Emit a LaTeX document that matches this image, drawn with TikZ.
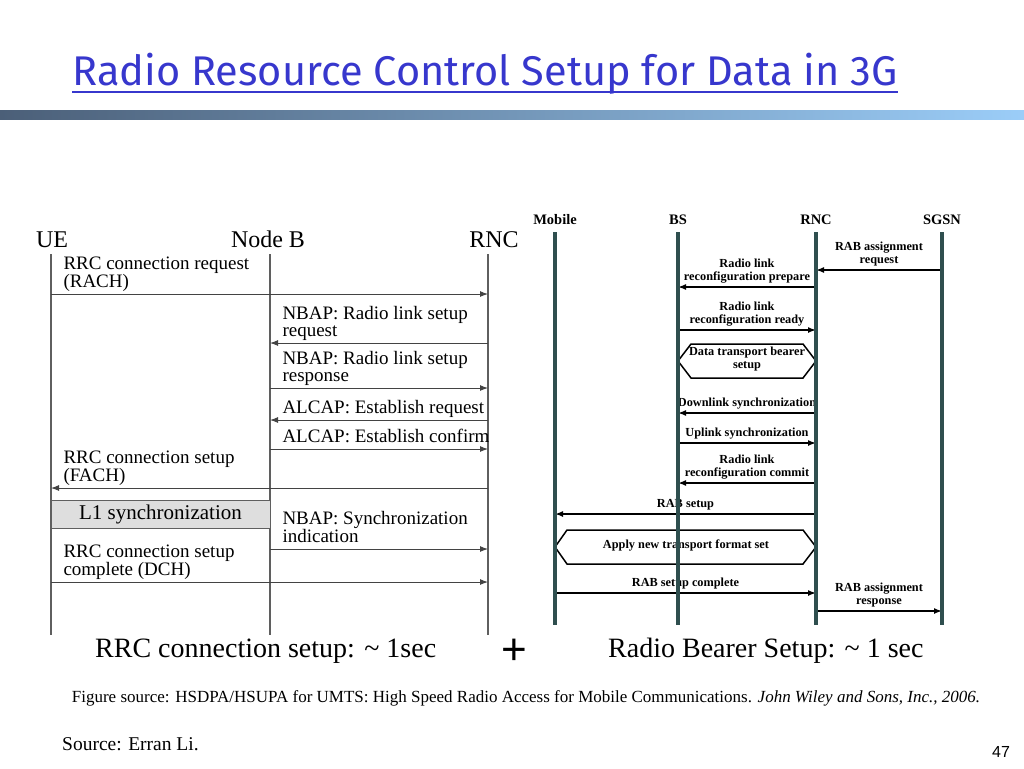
\documentclass[tikz,border=0pt]{standalone}
\usepackage{fontspec}
\setmainfont{Liberation Serif}
\newfontfamily\titlefont{Fira Sans}
\newfontfamily\slidesans{Liberation Sans}
\usetikzlibrary{arrows.meta,positioning}

\definecolor{titleblue}{RGB}{55,55,205}
\definecolor{lifegray}{RGB}{95,95,95}
\definecolor{lifeslate}{RGB}{47,79,79}
\definecolor{barleft}{RGB}{75,95,120}
\definecolor{barmid}{RGB}{125,160,205}
\definecolor{barright}{RGB}{155,205,248}

\begin{document}
\begin{tikzpicture}[x=1pt,y=-1pt,>={Latex[length=8pt,width=6pt]},
    lifeL/.style={draw=lifegray,line width=1.1pt},
    msgL/.style={->,draw=lifegray!70!black,line width=1pt},
    lblL/.style={font=\fontsize{19}{17}\selectfont,align=left,inner sep=0pt,
      anchor=south west,xshift=12pt,yshift=2pt,text depth=4pt},
    headL/.style={font=\fontsize{24}{24}\selectfont,inner sep=0pt,anchor=base},
    lifeR/.style={draw=lifeslate,line width=3.5pt},
    msgR/.style={->,line width=1.5pt},
    lblR/.style={font=\bfseries\fontsize{12.3}{13}\selectfont,align=center,
      inner sep=0pt,anchor=south,yshift=3pt,text depth=3pt},
    headR/.style={font=\bfseries\fontsize{14.5}{15}\selectfont,inner sep=0pt,anchor=base},
    hexbox/.style={draw,line width=1.5pt,fill=white}]
  \fill[white] (0,0) rectangle (1024,768);
  \useasboundingbox (0,0) rectangle (1024,768);

  % title and bar
  \node[font=\titlefont\fontsize{41.5}{42}\selectfont,text=titleblue,inner sep=0pt,
    anchor=base] (ttl) at (485,85) {Radio Resource Control Setup for Data in 3G};
  \draw[titleblue,line width=2pt] (ttl.base west) ++(0,7) -- ([yshift=-7pt]ttl.base east);
  \shade[left color=barleft,middle color=barmid,right color=barright]
    (0,110) rectangle (1024,119);

  % RRC connection setup (left)
  \node[headL] (hUE) at (52,247) {UE};
  \node[headL] (hNB) at (268,247) {Node B};
  \node[headL] (hRNC) at (494,247) {RNC};
  \coordinate (ue) at (51,254);
  \coordinate (nb) at (270,254);
  \coordinate (rnc) at (488,254);
  \foreach \c in {ue,nb,rnc}
    \draw[lifeL] (\c) -- (\c |- 0,635);

  \path (ue |- 0,294) edge[msgL] node[lblL,at start] {RRC connection request\\(RACH)} (rnc |- 0,294)
    (rnc |- 0,343) edge[msgL] node[lblL,at end] {NBAP: Radio link setup\\request} (nb |- 0,343)
    (nb |- 0,388) edge[msgL] node[lblL,at start] {NBAP: Radio link setup\\response} (rnc |- 0,388)
    (rnc |- 0,420) edge[msgL] node[lblL,at end] {ALCAP: Establish request} (nb |- 0,420)
    (nb |- 0,449) edge[msgL] node[lblL,at start] {ALCAP: Establish confirm} (rnc |- 0,449)
    (rnc |- 0,488) edge[msgL] node[lblL,at end] {RRC connection setup\\(FACH)} (ue |- 0,488)
    (nb |- 0,549) edge[msgL] node[lblL,at start] {NBAP: Synchronization\\indication} (rnc |- 0,549)
    (ue |- 0,582) edge[msgL] node[lblL,at start] {RRC connection setup\\complete (DCH)} (rnc |- 0,582);

  \node[draw=lifegray,fill=black!13,line width=1pt,minimum width=219pt,
    minimum height=28pt,inner sep=0pt,font=\fontsize{21}{21}\selectfont]
    (l1) at (160.5,514) {L1 synchronization};

  % radio bearer setup (right)
  \foreach \n/\x/\t in {mob/555/Mobile,bs/678/BS,rncR/816/RNC,sgsn/942/SGSN} {
    \node[headR] (\n) at (\x,224) {\t};
  }
  \draw[hexbox] (bs |- 0,361) -- (691,344) -- (803,344) -- (rncR |- 0,361)
    -- (803,378) -- (691,378) -- cycle;
  \node[lblR,anchor=center,yshift=0pt,text depth=0pt] (dtb) at (747,361)
    {Data transport bearer\\setup};
  \draw[hexbox] (mob |- 0,547) -- (567,530) -- (803,530) -- (rncR |- 0,547)
    -- (803,564) -- (567,564) -- cycle;
  \node[lblR,anchor=center,yshift=0pt,text depth=0pt] (antf) at (686,547)
    {Apply new transport format set};

  \path (sgsn |- 0,270) edge[msgR] node[lblR] {RAB assignment\\request} (rncR |- 0,270)
    (rncR |- 0,287) edge[msgR] node[lblR] {Radio link\\reconfiguration prepare} (bs |- 0,287)
    (bs |- 0,330) edge[msgR] node[lblR] {Radio link\\reconfiguration ready} (rncR |- 0,330)
    (rncR |- 0,413) edge[msgR] node[lblR] {Downlink synchronization} (bs |- 0,413)
    (bs |- 0,443) edge[msgR] node[lblR] {Uplink synchronization} (rncR |- 0,443)
    (rncR |- 0,483) edge[msgR] node[lblR] {Radio link\\reconfiguration commit} (bs |- 0,483)
    (rncR |- 0,514) edge[msgR] node[lblR] {RAB setup} (mob |- 0,514)
    (mob |- 0,593) edge[msgR] node[lblR] {RAB setup complete} (rncR |- 0,593)
    (rncR |- 0,611) edge[msgR] node[lblR] {RAB assignment\\response} (sgsn |- 0,611);

  \foreach \n in {mob,bs,rncR,sgsn}
    \draw[lifeR] (\n |- 0,232) -- (\n |- 0,625);

  % timings and sources
  \node[font=\fontsize{28}{28}\selectfont,inner sep=0pt,anchor=base west]
    (trrc) at (95,657) {RRC connection setup: \textasciitilde{} 1sec};
  \node[font=\slidesans\fontsize{44}{44}\selectfont,inner sep=0pt] (plus) at (514,652) {+};
  \node[font=\fontsize{28}{28}\selectfont,inner sep=0pt,anchor=base west]
    (trb) at (608,657) {Radio Bearer Setup: \textasciitilde{} 1 sec};
  \node[font=\fontsize{17}{17}\selectfont,inner sep=0pt,anchor=base] (fsrc) at (526,702)
    {Figure source: HSDPA/HSUPA for UMTS: High Speed Radio Access for Mobile Communications. \textit{John Wiley and Sons, Inc., 2006.}};
  \node[font=\fontsize{19.5}{20}\selectfont,inner sep=0pt,anchor=base west] (src) at (62,750)
    {Source: Erran Li.};
  \node[font=\slidesans\fontsize{16}{16}\selectfont,inner sep=0pt] (pg) at (1001,752) {47};
\end{tikzpicture}
\end{document}
